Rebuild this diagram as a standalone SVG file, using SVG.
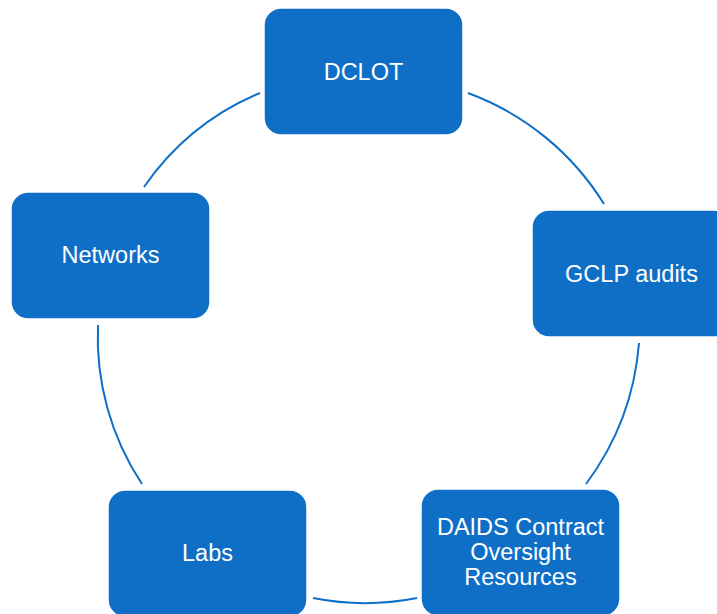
<svg xmlns="http://www.w3.org/2000/svg" width="717" height="614" viewBox="0 0 717 614">
<style>
.node rect{fill:#0F6FC6;stroke:#ffffff;stroke-width:1.5}
.node text{fill:#ffffff;font-family:"Liberation Sans",Arial,sans-serif;font-size:23.5px;text-anchor:middle}
.arc{fill:none;stroke:#0F6FC6;stroke-width:2}
</style>
<rect width="717" height="614" fill="#ffffff"/>
<g id="connectors">
<path class="arc" d="M468,93 A270,270 0 0 1 604,204"/>
<path class="arc" d="M639,343 A272,272 0 0 1 586,484"/>
<path class="arc" d="M417,598 A266,266 0 0 1 313,598"/>
<path class="arc" d="M142,484 A266,266 0 0 1 98,325"/>
<path class="arc" d="M144,187 A266,266 0 0 1 260,93"/>
</g>
<g id="node-dclot" class="node">
<rect x="264" y="8" width="199" height="127" rx="17"/>
<text x="363.5" y="80">DCLOT</text>
</g>
<g id="node-gclp" class="node">
<rect x="532" y="210" width="199" height="127" rx="17"/>
<text x="631.5" y="282">GCLP audits</text>
</g>
<g id="node-daids" class="node">
<rect x="421" y="489" width="199" height="127" rx="17"/>
<text x="520.5" y="535">DAIDS Contract</text>
<text x="520.5" y="560">Oversight</text>
<text x="520.5" y="585">Resources</text>
</g>
<g id="node-labs" class="node">
<rect x="108" y="490" width="199" height="127" rx="17"/>
<text x="207.5" y="561">Labs</text>
</g>
<g id="node-networks" class="node">
<rect x="11" y="192" width="199" height="127" rx="17"/>
<text x="110.5" y="263">Networks</text>
</g>
</svg>
